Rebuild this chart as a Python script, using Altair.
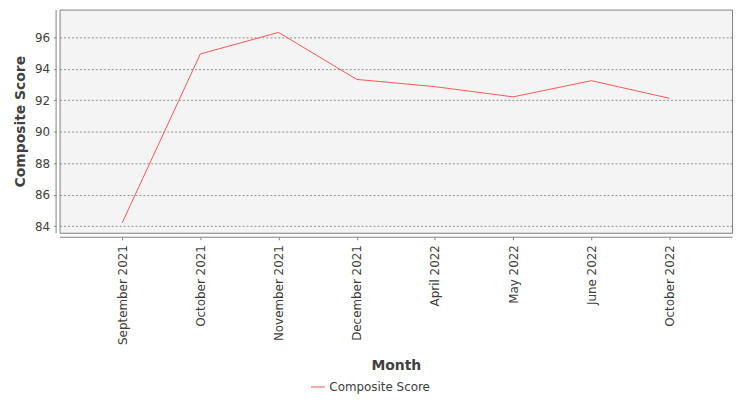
import altair as alt
import pandas as pd

# values
months = [
    "September 2021", "October 2021", "November 2021", "December 2021",
    "April 2022", "May 2022", "June 2022", "October 2022",
]
scores = [84.2, 94.95, 96.32, 93.33, 92.87, 92.22, 93.25, 92.13]
series = "Composite Score"
y_ticks = [84, 86, 88, 90, 92, 94, 96]

df = pd.DataFrame({"Month": months, "Score": scores, "Series": series})

font = "DejaVu Sans"
ink = "#404040"
edge = "#808080"

line = alt.Chart(df).mark_line(strokeWidth=1).encode(
    alt.X(
        "Month:N",
        sort=months,
        scale=alt.Scale(type="point", padding=0.8),
        axis=alt.Axis(
            title="Month", labelAngle=-90, offset=4, grid=False,
            tickSize=3, labelPadding=5, domainColor=edge, tickColor=edge,
            labelFontSize=12, labelColor=ink, labelFont=font,
            titleFontSize=14, titleFont=font, titleColor=ink, titlePadding=14,
        ),
    ),
    alt.Y(
        "Score:Q",
        scale=alt.Scale(domain=[83.58, 97.77], nice=False, zero=False),
        axis=alt.Axis(
            title="Composite Score", values=y_ticks, offset=4,
            tickSize=2, labelPadding=4, domainColor=edge, tickColor=edge,
            labelFontSize=12, labelColor=ink, labelFont=font,
            titleFontSize=14, titleFont=font, titleColor=ink, titlePadding=7,
            grid=True, gridColor="#777777", gridDash=[2, 2], gridWidth=0.8,
        ),
    ),
    alt.Color(
        "Series:N",
        scale=alt.Scale(domain=[series], range=["#ff5555"]),
        legend=alt.Legend(
            title=None, orient="none", legendX=253, legendY=373,
            symbolType="stroke", symbolSize=196, symbolStrokeWidth=1,
            labelFontSize=12, labelFont=font, labelColor=ink, padding=0,
        ),
    ),
)

chart = line.properties(
    width=678,
    height=225,
    padding={"left": 52, "top": 0, "right": 10, "bottom": 166},
    autosize=alt.AutoSizeParams(type="none"),
    background="white",
).configure_view(
    fill="#f4f4f4", stroke=edge, strokeWidth=1,
)

chart.save("out.html", embed_options={"renderer": "svg", "actions": False})
